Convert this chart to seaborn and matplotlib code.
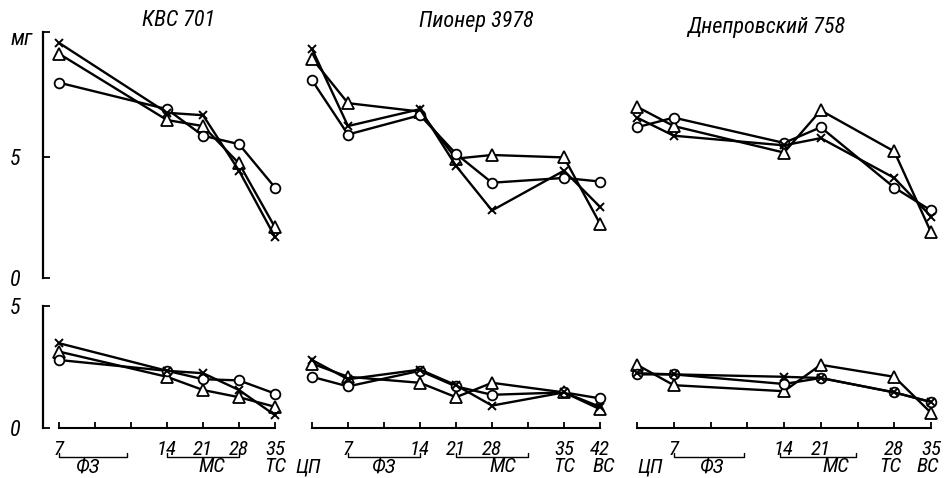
import numpy as np
import pandas as pd
import seaborn as sns
from matplotlib import pyplot as plt
from matplotlib import font_manager

titles = ["КВС 701", "Пионер 3978", "Днепровский 758"]

# tick index on the stage axis where each sample was taken
pos_kvs = [0, 3, 4, 5, 6]
pos_pioneer = [0, 1, 3, 4, 5, 7, 8]
pos_dnepr = [0, 1, 4, 5, 7, 8]

# upper panels, mg
kvs_top_circle = [8.1, 7.0, 5.9, 5.55, 3.75]
kvs_top_cross = [9.75, 6.85, 6.75, 4.45, 1.7]
kvs_top_tri = [9.3, 6.55, 6.3, 4.75, 2.1]

pioneer_top_circle = [8.2, 5.95, 6.75, 5.15, 3.95, 4.15, 4.0]
pioneer_top_cross = [9.5, 6.3, 7.0, 4.65, 2.8, 4.45, 2.95]
pioneer_top_tri = [9.1, 7.25, 6.9, 4.95, 5.1, 5.0, 2.25]

dnepr_top_circle = [6.25, 6.65, 5.6, 6.25, 3.75, 2.8]
dnepr_top_cross = [6.65, 5.9, 5.5, 5.8, 4.15, 2.55]
dnepr_top_tri = [7.1, 6.3, 5.2, 6.95, 5.25, 1.9]

# lower panels, mg
kvs_bot_circle = [2.75, 2.3, 1.95, 1.9, 1.35]
kvs_bot_cross = [3.45, 2.3, 2.2, 1.5, 0.45]
kvs_bot_tri = [3.1, 2.05, 1.5, 1.2, 0.8]

pioneer_bot_circle = [2.05, 1.65, 2.3, 1.65, 1.3, 1.4, 1.15]
pioneer_bot_cross = [2.75, 1.95, 2.35, 1.7, 0.85, 1.4, 0.8]
pioneer_bot_tri = [2.6, 2.05, 1.8, 1.2, 1.8, 1.4, 0.7]

dnepr_bot_circle = [2.15, 2.15, 1.75, 2.0, 1.4, 1.0]
dnepr_bot_cross = [2.2, 2.15, 2.05, 2.0, 1.4, 1.0]
dnepr_bot_tri = [2.55, 1.7, 1.45, 2.55, 2.05, 0.55]

ticks_kvs = ["7", "", "", "14", "21", "28", "35"]
ticks_pioneer = ["", "7", "", "14", "21", "28", "", "35", "42"]
ticks_dnepr = ["", "7", "", "", "14", "21", "", "28", "35"]

stages_kvs = [("ФЗ", 0.8), ("МС", 4.25), ("ТС", 6.0)]
stages_pioneer = [("ЦП", -0.1), ("ФЗ", 2.0), ("МС", 5.3), ("ТС", 7.0), ("ВС", 8.1)]
stages_dnepr = [("ЦП", 0.35), ("ФЗ", 2.05), ("МС", 5.4), ("ТС", 6.9), ("ВС", 7.9)]

brackets_kvs = [(0, 1.9), (3, 5)]
brackets_pioneer = [(1, 3), (4, 6)]
brackets_dnepr = [(1, 2.9), (3.9, 5.95)]

sns.set_style("white")

# narrow italic face if one is there, otherwise Roboto
face = 'Roboto'
for name in ['Liberation Sans Narrow', 'Roboto Condensed', 'DejaVu Sans Condensed']:
    try:
        font_manager.findfont(font_manager.FontProperties(family=name), fallback_to_default=False)
        face = name
        break
    except ValueError:
        pass

plt.rcParams['font.family'] = [face, 'DejaVu Sans']
plt.rcParams['font.style'] = 'italic'
plt.rcParams['text.color'] = 'black'
plt.rcParams['xtick.color'] = 'black'
plt.rcParams['ytick.color'] = 'black'

FS = 15

W, H = 946, 478
fig = plt.figure(figsize=(W / 100, H / 100), dpi=100)

# pixel layout: (left, right, px of tick 0, px per tick)
cols = [(43, 292, 59, 36.0), (298, 615, 312, 36.0), (624, 945, 637, 36.75)]
rows = [(32, 278, (0, 10.2)), (306, 428.4, (-0.1, 5.0))]


def make_ax(col, row):
    left, right, px0, step = col
    top, bottom, ylim = row
    ax = fig.add_axes([left / W, 1 - bottom / H, (right - left) / W, (bottom - top) / H])
    ax.set_xlim((left - px0) / step, (right - px0) / step)
    ax.set_ylim(*ylim)
    ax.patch.set_alpha(0)
    for s in ax.spines.values():
        s.set_visible(False)
    ax.set_xticks([])
    ax.set_yticks([])
    return ax


def draw(ax, pos, circle, cross, tri):
    common = dict(ax=ax, color='black', lw=1.7, sort=False, mec='black')
    sns.lineplot(x=pos, y=tri, marker='^', markersize=8, mfc='white', mew=1.3, **common)
    sns.lineplot(x=pos, y=circle, marker='o', markersize=7, mfc='white', mew=1.3, **common)
    sns.lineplot(x=pos, y=cross, marker='x', markersize=5.5, mew=1.4, **common)
    ax.set_xlabel('')
    ax.set_ylabel('')


def stage_axis(ax, labels, stages, brackets):
    n = len(labels) - 1
    ax.spines['bottom'].set_visible(True)
    ax.spines['bottom'].set_bounds(0, n)
    ax.spines['bottom'].set_linewidth(1.5)
    ax.spines['bottom'].set_color('black')
    ax.set_xticks(range(n + 1))
    ax.set_xticklabels(labels, fontsize=FS)
    ax.tick_params(axis='x', direction='in', length=4, width=1.3, pad=8, bottom=True)
    trans = ax.get_xaxis_transform()
    for name, x in stages:
        ax.text(x, -0.36, name, transform=trans, ha='center', va='baseline', fontsize=FS)
    for a, b in brackets:
        ax.plot([a, a, b, b], [-0.2, -0.23, -0.23, -0.2], transform=trans,
                color='black', lw=1.0, clip_on=False)


data = [
    (pos_kvs, [kvs_top_circle, kvs_top_cross, kvs_top_tri],
     [kvs_bot_circle, kvs_bot_cross, kvs_bot_tri], ticks_kvs, stages_kvs, brackets_kvs),
    (pos_pioneer, [pioneer_top_circle, pioneer_top_cross, pioneer_top_tri],
     [pioneer_bot_circle, pioneer_bot_cross, pioneer_bot_tri], ticks_pioneer, stages_pioneer, brackets_pioneer),
    (pos_dnepr, [dnepr_top_circle, dnepr_top_cross, dnepr_top_tri],
     [dnepr_bot_circle, dnepr_bot_cross, dnepr_bot_tri], ticks_dnepr, stages_dnepr, brackets_dnepr),
]

for i, (pos, top, bot, labels, stages, brackets) in enumerate(data):
    ax_top = make_ax(cols[i], rows[0])
    ax_bot = make_ax(cols[i], rows[1])
    draw(ax_top, pos, *top)
    draw(ax_bot, pos, *bot)
    stage_axis(ax_bot, labels, stages, brackets)
    if i == 0:
        for ax, ticks, names in [(ax_top, [0, 5, 10.2], ['0', '5', '']),
                                 (ax_bot, [-0.1, 5.0], ['0', '5'])]:
            ax.spines['left'].set_visible(True)
            ax.spines['left'].set_linewidth(1.6)
            ax.spines['left'].set_color('black')
            ax.set_yticks(ticks)
            ax.set_yticklabels(names, fontsize=FS + 1)
            ax.tick_params(axis='y', direction='in', length=5, width=1.3, pad=16, left=True)
        ax_top.text(-0.04, 9.9, 'мг', transform=ax_top.get_yaxis_transform(),
                    ha='right', va='center', fontsize=FS + 1)

fig.text(179 / W, 1 - 20 / H, titles[0], ha='center', va='center', fontsize=16)
fig.text(476 / W, 1 - 22 / H, titles[1], ha='center', va='center', fontsize=16)
fig.text(766 / W, 1 - 28 / H, titles[2], ha='center', va='center', fontsize=16)

fig.savefig('out.png', dpi=100)
